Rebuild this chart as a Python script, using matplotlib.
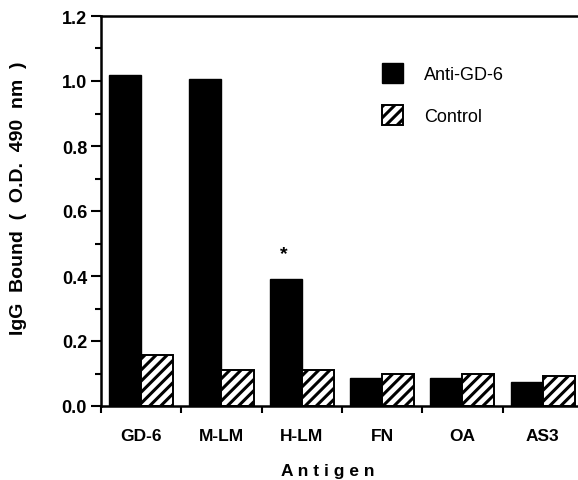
import matplotlib
matplotlib.use("Agg")
import matplotlib.pyplot as plt
import numpy as np

antigens = ["GD-6", "M-LM", "H-LM", "FN", "OA", "AS3"]
anti_gd6 = [1.02, 1.005, 0.39, 0.085, 0.085, 0.075]
control = [0.157, 0.11, 0.11, 0.10, 0.10, 0.093]
y_ticks = [0.0, 0.2, 0.4, 0.6, 0.8, 1.0, 1.2]

plt.rcParams['font.family'] = ['Liberation Sans', 'DejaVu Sans']
plt.rcParams['hatch.linewidth'] = 2.2

fig = plt.figure(figsize=(5.78, 4.81), dpi=100)
ax = fig.add_axes([101/578, 74/481, 1 - 101/578, (407-17)/481])

x = np.arange(len(antigens))
w = 0.4
ax.bar(x + 0.1, anti_gd6, width=w, align='edge', color='black', edgecolor='black',
       linewidth=1.0, label='Anti-GD-6')
ax.bar(x + 0.5, control, width=w, align='edge', color='white', edgecolor='black',
       linewidth=1.4, hatch='///', label='Control')

ax.text(2.28, 0.47, '*', ha='center', va='center', fontsize=14, fontweight='bold')

ax.set_xlim(0, 477/80.3)
ax.set_ylim(0, 1.2)
ax.set_yticks(y_ticks)
ax.set_yticklabels([f"{v:.1f}" for v in y_ticks], fontsize=13, fontweight='bold')
ax.set_yticks(np.arange(0.1, 1.2, 0.2), minor=True)

ax.set_xticks(np.arange(0, 6))
ax.set_xticklabels([])
ax.set_xticks(x + 0.5, minor=True)
ax.set_xticklabels(antigens, minor=True, fontsize=12.5, fontweight='bold')

ax.tick_params(axis='y', which='major', direction='out', length=7, width=1.5, pad=3)
ax.tick_params(axis='y', which='minor', direction='out', length=4, width=1.5)
ax.tick_params(axis='x', which='major', direction='out', length=5, width=1.5)
ax.tick_params(axis='x', which='minor', length=0, pad=16)

for s in ['left', 'bottom', 'top']:
    ax.spines[s].set_linewidth(1.8)
ax.spines['right'].set_visible(False)

ax.set_xlabel('A n t i g e n', fontsize=12.5, fontweight='bold')
ax.xaxis.set_label_coords(0.475, -0.145)
ax.set_ylabel('IgG  Bound  (  O.D.  490  nm  )', fontsize=14, fontweight='bold')
ax.yaxis.set_label_coords(-0.155, 0.536)

leg = ax.legend(loc='upper left', bbox_to_anchor=(0.555, 0.92), frameon=False,
                fontsize=13, handlelength=1.15, handleheight=1.3, labelspacing=1.2,
                handletextpad=1.2)

fig.savefig('out.png', dpi=100)
